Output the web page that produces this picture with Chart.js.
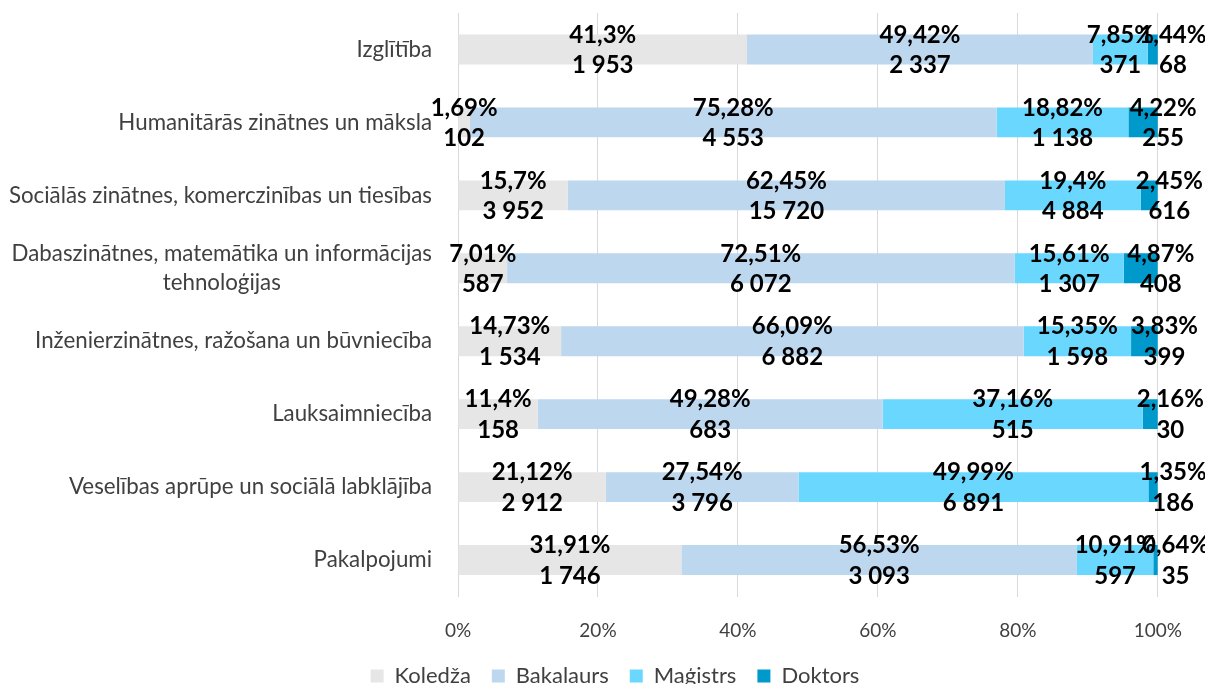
<!DOCTYPE html>
<html>
<head>
<meta charset="utf-8">
<script src="https://cdn.jsdelivr.net/npm/chart.js@4/dist/chart.umd.min.js"></script>
<style>
html,body{margin:0;padding:0;overflow:hidden;background:#ffffff;}
#wrap{width:1205px;height:697px;}
</style>
</head>
<body>
<div id="wrap"><canvas id="c" width="1205" height="697"></canvas></div>
<script>
const categories = [
  ['Izglītība'],
  ['Humanitārās zinātnes un māksla'],
  ['Sociālās zinātnes, komerczinības un tiesības'],
  ['Dabaszinātnes, matemātika un informācijas', 'tehnoloģijas'],
  ['Inženierzinātnes, ražošana un būvniecība'],
  ['Lauksaimniecība'],
  ['Veselības aprūpe un sociālā labklājība'],
  ['Pakalpojumi']
];
const seriesNames = ['Koledža', 'Bakalaurs', 'Maģistrs', 'Doktors'];

const koledzaPct   = [41.3, 1.69, 15.7, 7.01, 14.73, 11.4, 21.12, 31.91];
const koledzaCnt   = [1953, 102, 3952, 587, 1534, 158, 2912, 1746];
const bakalaursPct = [49.42, 75.28, 62.45, 72.51, 66.09, 49.28, 27.54, 56.53];
const bakalaursCnt = [2337, 4553, 15720, 6072, 6882, 683, 3796, 3093];
const magistrsPct  = [7.85, 18.82, 19.4, 15.61, 15.35, 37.16, 49.99, 10.91];
const magistrsCnt  = [371, 1138, 4884, 1307, 1598, 515, 6891, 597];
const doktorsPct   = [1.44, 4.22, 2.45, 4.87, 3.83, 2.16, 1.35, 0.64];
const doktorsCnt   = [68, 255, 616, 408, 399, 30, 186, 35];

const xTicks = [0, 20, 40, 60, 80, 100];

const colors = ['#E7E6E6', '#BDD7EE', '#6AD7FF', '#0099CC'];
const FONT = 'Lato, "Open Sans", sans-serif';

function fmtPct(v){ return String(v).replace('.', ',') + '%'; }
function fmtCnt(v){ return String(v).replace(/\B(?=(\d{3})+(?!\d))/g, ' '); }

const yLabelPlugin = {
  id: 'yLabels',
  afterDraw(chart){
    const ctx = chart.ctx;
    const ys = chart.scales.y;
    const right = chart.chartArea.left - 26;
    ctx.save();
    ctx.font = '22.3px ' + FONT;
    ctx.fillStyle = '#404040';
    ctx.textBaseline = 'middle';
    ctx.textAlign = 'center';
    categories.forEach((lines, i) => {
      const yc = ys.getPixelForTick(i);
      const lh = 29;
      const widths = lines.map(l => ctx.measureText(l).width);
      const maxW = Math.max(...widths);
      const y0 = yc - (lines.length - 1) * lh / 2;
      lines.forEach((l, k) => {
        ctx.fillText(l, right - maxW / 2, y0 + k * lh);
      });
    });
    ctx.restore();
  }
};

const valueLabelPlugin = {
  id: 'valueLabels',
  afterDraw(chart){
    const ctx = chart.ctx;
    ctx.save();
    ctx.font = 'bold 24px ' + FONT;
    ctx.fillStyle = '#000000';
    ctx.textAlign = 'center';
    ctx.textBaseline = 'middle';
    chart.data.datasets.forEach((ds, di) => {
      const meta = chart.getDatasetMeta(di);
      meta.data.forEach((bar, i) => {
        const cx = (bar.x + bar.base) / 2 + (ds.labelShift || 0);
        ctx.fillText(fmtPct(ds.data[i]), cx, bar.y - 14.5);
        ctx.fillText(fmtCnt(ds.counts[i]), cx, bar.y + 16);
      });
    });
    ctx.restore();
  }
};

const pcts = [koledzaPct, bakalaursPct, magistrsPct, doktorsPct];
const cnts = [koledzaCnt, bakalaursCnt, magistrsCnt, doktorsCnt];

new Chart(document.getElementById('c'), {
  type: 'bar',
  data: {
    labels: categories,
    datasets: seriesNames.map((name, i) => ({
      label: name,
      data: pcts[i],
      counts: cnts[i],
      backgroundColor: colors[i],
      borderWidth: 0,
      barPercentage: 0.41,
      categoryPercentage: 1.0,
      labelShift: i === 3 ? 20 : 0
    }))
  },
  options: {
    indexAxis: 'y',
    responsive: false,
    animation: false,
    layout: { padding: { top: 13, right: 47, left: 72, bottom: 0 } },
    scales: {
      x: {
        stacked: true,
        min: 0, max: 100,
        afterBuildTicks(scale){ scale.ticks = xTicks.map(v => ({ value: v })); },
        afterFit(scale){ scale.height = 47.5; },
        grid: { color: '#D9D9D9', lineWidth: 1, drawTicks: false },
        border: { display: false },
        ticks: {
          padding: 23,
          color: '#404040',
          font: { family: FONT, size: 19 },
          callback: v => v + '%'
        }
      },
      y: {
        stacked: true,
        afterFit(scale){ scale.width = 386; },
        grid: { display: false, drawTicks: false },
        border: { display: false },
        ticks: { display: false }
      }
    },
    plugins: {
      legend: {
        position: 'bottom',
        labels: {
          boxWidth: 13, boxHeight: 13,
          padding: 21,
          color: '#404040',
          font: { family: FONT, size: 22 }
        }
      },
      title: { display: false },
      tooltip: { enabled: false }
    }
  },
  plugins: [yLabelPlugin, valueLabelPlugin]
});
</script>
</body>
</html>
